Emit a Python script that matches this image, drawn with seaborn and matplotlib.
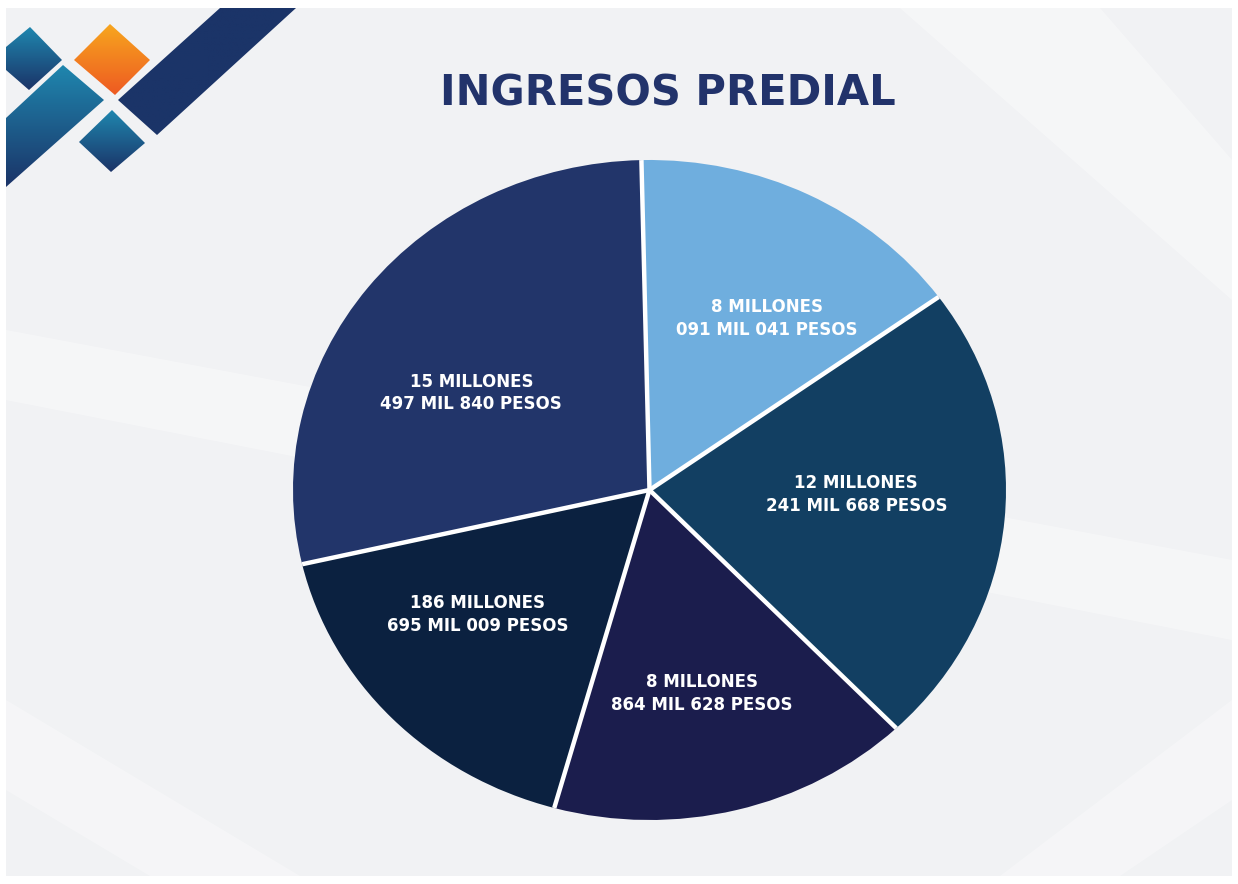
import numpy as np
import matplotlib
matplotlib.use("Agg")
import matplotlib.pyplot as plt
from matplotlib.patches import Polygon, Rectangle
import seaborn as sns

# ---- data ----
labels = [
    "8 MILLONES\n091 MIL 041 PESOS",
    "12 MILLONES\n241 MIL 668 PESOS",
    "8 MILLONES\n864 MIL 628 PESOS",
    "186 MILLONES\n695 MIL 009 PESOS",
    "15 MILLONES\n497 MIL 840 PESOS",
]
# slice sizes as drawn (degrees)
slice_sizes = [55.5, 82.0, 59.3, 61.5, 101.7]
slice_colors = ["#6FAEDE", "#123F62", "#1B1D4D", "#0B2140", "#22356A"]
title = "INGRESOS PREDIAL"

# label anchor positions inside the pie (axes data units, radius = 1)
label_pos = [(0.33, 0.52), (0.58, -0.015), (0.146, -0.618), (-0.483, -0.376), (-0.50, 0.294)]

sns.set_theme(style="white")
plt.rcParams['font.family'] = ['DejaVu Sans']

W, H = 1238, 884
fig = plt.figure(figsize=(W / 100, H / 100), dpi=100)
fig.patch.set_facecolor("white")

# background / decoration axes in pixel coords
bg = fig.add_axes([0, 0, 1, 1], zorder=0)
bg.set_xlim(0, W)
bg.set_ylim(H, 0)
bg.axis("off")
bg.add_patch(Rectangle((6, 8), W - 12, H - 16, facecolor="#F1F2F4", edgecolor="none"))
# faint light stripes
for pts, a in [
    ([(6, 330), (1232, 560), (1232, 640), (6, 400)], 0.35),
    ([(900, 8), (1100, 8), (1232, 160), (1232, 300)], 0.35),
    ([(6, 700), (300, 876), (150, 876), (6, 790)], 0.3),
    ([(1000, 876), (1232, 700), (1232, 800), (1120, 876)], 0.3),
]:
    bg.add_patch(Polygon(pts, closed=True, facecolor="white", edgecolor="none", alpha=a))

# logo with gradients
def grad_poly(ax, pts, c_top, c_bot):
    poly = Polygon(pts, closed=True, facecolor="none", edgecolor="none")
    ax.add_patch(poly)
    ys = [p[1] for p in pts]
    xs = [p[0] for p in pts]
    y0, y1 = min(ys), max(ys)
    cmap = matplotlib.colors.LinearSegmentedColormap.from_list("g", [c_top, c_bot])
    grad = np.linspace(0, 1, 64).reshape(-1, 1)
    im = ax.imshow(grad, cmap=cmap, extent=(min(xs), max(xs), y1, y0),
                   aspect="auto", origin="upper", zorder=2)
    im.set_clip_path(poly)

grad_poly(bg, [(6, 47), (30, 27), (62, 60), (29, 90), (6, 70)], "#1F86AE", "#1B3468")
grad_poly(bg, [(110, 24), (150, 60), (115, 95), (74, 60)], "#F7A61E", "#EE5A22")
grad_poly(bg, [(6, 118), (63, 65), (104, 100), (6, 187)], "#1F86AE", "#1B3468")
grad_poly(bg, [(112, 110), (145, 143), (111, 172), (79, 142)], "#1F86AE", "#1B3468")
grad_poly(bg, [(118, 100), (220, 8), (296, 8), (157, 135)], "#1B3468", "#1B3468")
bg.set_xlim(0, W)
bg.set_ylim(H, 0)

fig.text(668 / W, 1 - 93 / H, title, ha="center", va="center",
         fontsize=30, fontweight="bold", color="#22336B")

# pie axes positioned to the ellipse bounds
left, right, top, bottom = 293, 1006, 160, 820
ax = fig.add_axes([left / W, 1 - bottom / H, (right - left) / W, (bottom - top) / H], zorder=1)
wedges, texts = ax.pie(
    slice_sizes, labels=labels, colors=slice_colors, startangle=91.3,
    counterclock=False, labeldistance=0.6,
    wedgeprops=dict(linewidth=0),
    textprops=dict(color="white", fontsize=12, fontweight="bold",
                   ha="center", va="center", linespacing=1.35),
)
for t, p in zip(texts, label_pos):
    t.set_position(p)
    t.set_zorder(5)
# white separators between slices
for w in wedges:
    th = np.deg2rad(w.theta1)
    ax.plot([0, np.cos(th)], [0, np.sin(th)], color="white", lw=3.2,
            solid_capstyle="butt", zorder=4)
ax.set_aspect("auto")
ax.set_xlim(-1.0, 1.0)
ax.set_ylim(-1.0, 1.0)
ax.axis("off")

fig.savefig("out.png", dpi=100, facecolor="white")
